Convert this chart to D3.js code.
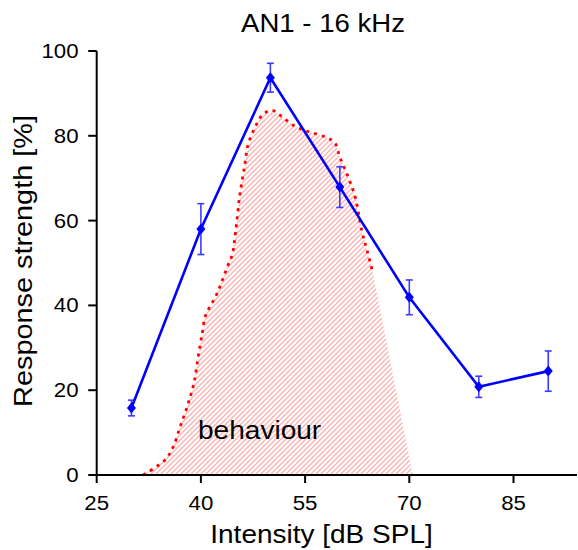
<!DOCTYPE html>
<html>
<head>
<meta charset="utf-8">
<script src="https://cdn.jsdelivr.net/npm/d3@7"></script>
<style>
html,body{margin:0;padding:0;background:#fff;}
svg{display:block;font-family:"Liberation Sans",Arial,sans-serif;}
</style>
</head>
<body>
<svg id="chart" width="578" height="550"></svg>
<script>
// ---- data ----
const intensity = [30, 40, 50, 60, 70, 80, 90];
const response  = [15.8, 58.0, 93.7, 67.9, 41.9, 20.8, 24.5];
const errorBar  = [1.85, 6.0, 3.4, 4.8, 4.1, 2.5, 4.75];

const behaviourDb  = [31.7, 34.8, 36.0, 37.0, 38.1, 39.0, 39.6, 40.2, 40.6, 41.2, 42.0, 42.7, 43.9, 44.5, 45.0, 45.6, 46.3, 46.8, 47.8, 48.9, 50.3, 51.8, 53.3, 54.7, 56.1, 58.2, 59.3, 60.0, 61.2, 62.2, 63.2, 63.9, 64.8];
const behaviourVal = [0, 3.5, 6.6, 11.3, 16.5, 21.7, 27.8, 33.5, 37.3, 39.4, 41.7, 44.3, 49.5, 51.9, 57.5, 66.0, 73.0, 78.0, 82.0, 85.0, 86.0, 84.3, 82.5, 81.4, 80.7, 79.5, 78.3, 75.0, 70.3, 65.6, 57.3, 53.1, 47.4];
const behaviourEndDb = 70.5;   // where the shaded area meets the x axis

const xTicks = [25, 40, 55, 70, 85];
const yTicks = [0, 20, 40, 60, 80, 100];
const titleText = "AN1 - 16 kHz";
const xLabel = "Intensity [dB SPL]";
const yLabel = "Response strength [%]";
const areaLabel = "behaviour";

// ---- layout ----
const svg = d3.select("#chart");
const x = d3.scaleLinear().domain([25, 94.14]).range([96.7, 577]);
const y = d3.scaleLinear().domain([0, 100]).range([475, 51]);

// hatch pattern
const defs = svg.append("defs");
const pat = defs.append("pattern").attr("id", "hatch")
  .attr("patternUnits", "userSpaceOnUse").attr("width", 5).attr("height", 5);
pat.append("path").attr("d", "M-1,1 l2,-2 M0,5 l5,-5 M4,6 l2,-2")
  .attr("stroke", "#fbb6b6").attr("stroke-width", 1.5);

// shaded behaviour area
const areaPts = behaviourDb.map((d, i) => [d, behaviourVal[i]]);
const polyPts = areaPts.concat([[behaviourEndDb, 0], [behaviourDb[0], 0]]);
svg.append("path")
  .attr("d", d3.line().x(d => x(d[0])).y(d => y(d[1]))(polyPts) + "Z")
  .attr("fill", "url(#hatch)").attr("stroke", "none");

// dotted behaviour curve
svg.append("path")
  .attr("d", d3.line().x(d => x(d[0])).y(d => y(d[1])).curve(d3.curveCatmullRom)(areaPts))
  .attr("fill", "none").attr("stroke", "#ff0000").attr("stroke-width", 2.8)
  .attr("stroke-dasharray", "3,5");

// axes
const axisG = svg.append("g").attr("stroke", "#000").attr("stroke-width", 2);
axisG.append("line").attr("x1", x(25)).attr("x2", 577).attr("y1", y(0)).attr("y2", y(0));
axisG.append("line").attr("x1", x(25)).attr("x2", x(25)).attr("y1", y(0)).attr("y2", y(100));
axisG.selectAll(".xt").data(xTicks).enter().append("line")
  .attr("x1", d => x(d)).attr("x2", d => x(d)).attr("y1", y(0)).attr("y2", y(0) + 8);
axisG.selectAll(".yt").data(yTicks).enter().append("line")
  .attr("x1", x(25) - 8.5).attr("x2", x(25)).attr("y1", d => y(d)).attr("y2", d => y(d));

function stretchedText(parent, txt, px, py, size, sx, anchor, rot) {
  return parent.append("text")
    .attr("transform", `translate(${px},${py})` + (rot ? ` rotate(${rot})` : "") + ` scale(${sx},1)`)
    .attr("text-anchor", anchor).attr("font-size", size).attr("fill", "#000").text(txt);
}

const labG = svg.append("g");
xTicks.forEach(t => stretchedText(labG, String(t), x(t), 510, 19.5, 1.14, "middle"));
yTicks.forEach(t => stretchedText(labG, String(t), 78.5, y(t) + 7, 19.5, 1.14, "end"));

stretchedText(labG, titleText, 323, 32.3, 26, 1.06, "middle");
stretchedText(labG, xLabel, 321.5, 543, 25, 1.12, "middle");
stretchedText(labG, yLabel, 31.5, 261, 26, 1.11, "middle", -90);
stretchedText(labG, areaLabel, 198, 439, 25.5, 1.1, "start");

// response series
const errCol = "#3b3bff";
const eb = svg.append("g").attr("stroke", errCol).attr("stroke-width", 1.6);
intensity.forEach((d, i) => {
  const cx = x(d), top = y(response[i] + errorBar[i]), bot = y(response[i] - errorBar[i]);
  eb.append("line").attr("x1", cx).attr("x2", cx).attr("y1", top).attr("y2", bot);
  eb.append("line").attr("x1", cx - 3.5).attr("x2", cx + 3.5).attr("y1", top).attr("y2", top);
  eb.append("line").attr("x1", cx - 3.5).attr("x2", cx + 3.5).attr("y1", bot).attr("y2", bot);
});

svg.append("path")
  .attr("d", d3.line().x((d, i) => x(d)).y((d, i) => y(response[i]))(intensity))
  .attr("fill", "none").attr("stroke", "#0000ff").attr("stroke-width", 2.6);

svg.selectAll(".pt").data(intensity).enter().append("path")
  .attr("transform", (d, i) => `translate(${x(d)},${y(response[i])})`)
  .attr("d", "M0,-5.5 L4.5,0 L0,5.5 L-4.5,0 Z")
  .attr("fill", "#0000ff");
</script>
</body>
</html>
